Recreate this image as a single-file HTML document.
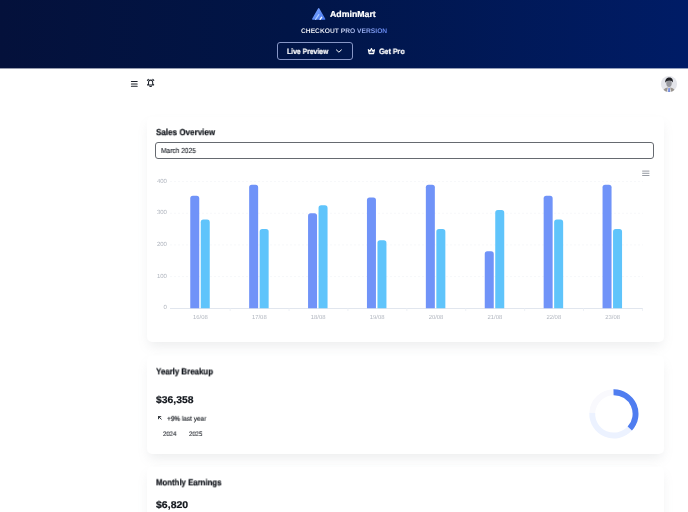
<!DOCTYPE html>
<html lang="en">
<head>
<meta charset="utf-8">
<title>AdminMart Dashboard</title>
<style>
*{box-sizing:border-box;margin:0;padding:0}
html,body{width:688px;height:512px;overflow:hidden;background:#fff;text-rendering:geometricPrecision;font-family:"Liberation Sans",sans-serif;color:#1d222b}
.abs{position:absolute}
#top{position:absolute;left:0;top:0;width:688px;height:68px;background:linear-gradient(90deg,#04113b 0%,#011547 42%,#001c66 100%)}
#live{position:absolute;left:277px;top:42px;width:76px;height:17.5px;border:1px solid #8796c6;border-radius:3px}
.card{position:absolute;left:147px;width:517.2px;background:#fff;border-radius:5px;box-shadow:0 6px 12px -2px rgba(136,138,146,.155)}
.t{position:absolute;will-change:transform;line-height:1;white-space:pre;transform-origin:0 0}
svg{will-change:transform;position:absolute;left:0;top:0;overflow:visible}
svg text{font-family:"Liberation Sans",sans-serif;text-rendering:geometricPrecision}
</style>
</head>
<body>
<div id="top"></div>
<div style="position:absolute;left:0;top:68px;width:688px;height:1px;opacity:.42;background:linear-gradient(90deg,#04113b 0%,#011547 42%,#001c66 100%)"></div>
<svg width="688" height="68" viewBox="0 0 688 68">
  <defs>
    <linearGradient id="lg" x1="0" y1="0" x2="1" y2="1">
      <stop offset="0" stop-color="#7da6ff"/><stop offset="1" stop-color="#4777ee"/>
    </linearGradient>
  </defs>
  <path d="M318.7 8.9 L324.6 19.1 L312.8 19.1 Z" fill="url(#lg)" stroke="url(#lg)" stroke-width="1.5" stroke-linejoin="round"/>
  <path d="M315.6 19.4 L318.8 14.6" stroke="#a9c9ff" stroke-width="1.3" stroke-linecap="round" fill="none"/><path d="M320.1 19.3 L321.6 17.3" stroke="#f2f6ff" stroke-width="1.4" stroke-linecap="round" fill="none"/>
  <!-- chevron -->
  <path d="M336.4 49.9 L338.9 52.2 L341.4 49.9" fill="none" stroke="#fff" stroke-width="1" stroke-linecap="round" stroke-linejoin="round"/>
  <!-- crown -->
  <path d="M368.3 49.7 L369.2 53.6 L373.6 53.6 L374.5 49.7 L372.8 51.2 L371.4 48.6 L370 51.2 Z" fill="rgba(255,255,255,.25)" stroke="#fff" stroke-width="1.1" stroke-linejoin="round"/>
</svg>
<div id="live"></div>

<!-- nav icons -->
<svg width="688" height="120" viewBox="0 0 688 120">
  <g stroke="#1d222b" stroke-width="1.05" stroke-linecap="round" fill="none">
    <path d="M131.4 81.5 H137.2 M131.4 83.9 H137.2 M131.4 86.3 H137.2"/>
    <path d="M148.5 84 C148.5 82.2 148.3 80.1 150.6 80.1 C152.9 80.1 152.7 82.2 152.7 84 L153.7 84.9 H147.5 Z" stroke-linejoin="round"/>
    <path d="M149.7 86.1 Q150.6 86.9 151.5 86.1"/>
    <path d="M147.4 80.4 L148.4 79.3 M153.8 80.4 L152.8 79.3"/>
  </g>
  <clipPath id="av"><circle cx="669" cy="84" r="8.1"/></clipPath>
  <g clip-path="url(#av)">
    <rect x="660" y="75" width="18" height="18" fill="#e4e5ea"/>
    <path d="M663 93 C663 88.6 665.6 87.4 669 87.4 C672.4 87.4 675 88.6 675 93Z" fill="#9a958f"/>
    <path d="M666.6 93 L667.8 87.6 H670.2 L671.4 93Z" fill="#e9eaf0"/>
    <path d="M668.2 93 L668.5 88 H669.6 L669.9 93Z" fill="#4f6fd8"/>
    <ellipse cx="669" cy="83.3" rx="2.7" ry="3.8" fill="#96979d"/>
    <path d="M665.3 82.8 C664.8 78.8 667.4 77.3 669.4 77.4 C671.6 77.5 673.4 79 672.9 82.6 C672.3 81 671 80.3 669.2 80.4 C667.4 80.5 666.2 81 665.3 82.8Z" fill="#1e1f24"/>
  </g>
</svg>

<!-- cards -->
<div class="card" style="top:117px;height:225.2px"></div>
<div class="card" style="top:356px;height:98px"></div>
<div class="card" style="top:467px;height:98px"></div>
<div class="abs" style="left:155.3px;top:142px;width:498.4px;height:17px;border:1px solid #666a70;border-radius:3px"></div>

<svg width="688" height="512" viewBox="0 0 688 512">
  <path d="M170 276.62 H643 M170 244.95 H643 M170 213.28 H643 M170 181.60 H643" stroke="#f7f8fa" stroke-width="1" stroke-dasharray="2 2" fill="none"/>
  <path d="M170 308.5 H643" stroke="#e1e6ee" stroke-width="1"/>
  <path d="M230.15 308.5 V311 M289.05 308.5 V311 M347.95 308.5 V311 M406.85 308.5 V311 M465.75 308.5 V311 M524.65 308.5 V311 M583.55 308.5 V311 M642.45 308.5 V311" stroke="#eef1f6" stroke-width="1" fill="none"/>
  <g fill="#b1b6bf" font-size="6" text-anchor="end"><text x="166.9" y="309.20">0</text><text x="166.9" y="277.52">100</text><text x="166.9" y="245.85">200</text><text x="166.9" y="214.18">300</text><text x="166.9" y="182.50">400</text></g>
  <g fill="#b1b6bf" font-size="5.9" text-anchor="middle"><text x="200.40" y="319.3">16/08</text><text x="259.30" y="319.3">17/08</text><text x="318.20" y="319.3">18/08</text><text x="377.10" y="319.3">19/08</text><text x="436.00" y="319.3">20/08</text><text x="494.90" y="319.3">21/08</text><text x="553.80" y="319.3">22/08</text><text x="612.70" y="319.3">23/08</text></g>
  <g fill="#7093f8">
<path d="M190.25 308.3 V198.45 a2.6 2.6 0 0 1 2.6 -2.6 h3.80 a2.6 2.6 0 0 1 2.6 2.6 V308.3Z"/>
<path d="M249.15 308.3 V187.37 a2.6 2.6 0 0 1 2.6 -2.6 h3.80 a2.6 2.6 0 0 1 2.6 2.6 V308.3Z"/>
<path d="M308.05 308.3 V215.88 a2.6 2.6 0 0 1 2.6 -2.6 h3.80 a2.6 2.6 0 0 1 2.6 2.6 V308.3Z"/>
<path d="M366.95 308.3 V200.04 a2.6 2.6 0 0 1 2.6 -2.6 h3.80 a2.6 2.6 0 0 1 2.6 2.6 V308.3Z"/>
<path d="M425.85 308.3 V187.37 a2.6 2.6 0 0 1 2.6 -2.6 h3.80 a2.6 2.6 0 0 1 2.6 2.6 V308.3Z"/>
<path d="M484.75 308.3 V253.88 a2.6 2.6 0 0 1 2.6 -2.6 h3.80 a2.6 2.6 0 0 1 2.6 2.6 V308.3Z"/>
<path d="M543.65 308.3 V198.45 a2.6 2.6 0 0 1 2.6 -2.6 h3.80 a2.6 2.6 0 0 1 2.6 2.6 V308.3Z"/>
<path d="M602.55 308.3 V187.37 a2.6 2.6 0 0 1 2.6 -2.6 h3.80 a2.6 2.6 0 0 1 2.6 2.6 V308.3Z"/>
  </g>
  <g fill="#5fc4fb">
<path d="M200.75 308.3 V222.21 a2.6 2.6 0 0 1 2.6 -2.6 h3.80 a2.6 2.6 0 0 1 2.6 2.6 V308.3Z"/>
<path d="M259.65 308.3 V231.71 a2.6 2.6 0 0 1 2.6 -2.6 h3.80 a2.6 2.6 0 0 1 2.6 2.6 V308.3Z"/>
<path d="M318.55 308.3 V207.96 a2.6 2.6 0 0 1 2.6 -2.6 h3.80 a2.6 2.6 0 0 1 2.6 2.6 V308.3Z"/>
<path d="M377.45 308.3 V242.80 a2.6 2.6 0 0 1 2.6 -2.6 h3.80 a2.6 2.6 0 0 1 2.6 2.6 V308.3Z"/>
<path d="M436.35 308.3 V231.71 a2.6 2.6 0 0 1 2.6 -2.6 h3.80 a2.6 2.6 0 0 1 2.6 2.6 V308.3Z"/>
<path d="M495.25 308.3 V212.71 a2.6 2.6 0 0 1 2.6 -2.6 h3.80 a2.6 2.6 0 0 1 2.6 2.6 V308.3Z"/>
<path d="M554.15 308.3 V222.21 a2.6 2.6 0 0 1 2.6 -2.6 h3.80 a2.6 2.6 0 0 1 2.6 2.6 V308.3Z"/>
<path d="M613.05 308.3 V231.71 a2.6 2.6 0 0 1 2.6 -2.6 h3.80 a2.6 2.6 0 0 1 2.6 2.6 V308.3Z"/>
  </g>
  <!-- chart menu -->
  <path d="M642.2 171.1 H649.4 M642.2 173.3 H649.4 M642.2 175.5 H649.4" stroke="#979ba3" stroke-width="1" fill="none"/>
  <!-- arrow up-left -->
  <path d="M161.3 419.2 L158.5 416.6 M158.5 418.8 V416.6 H160.8" fill="none" stroke="#171b22" stroke-width=".85" stroke-linecap="round" stroke-linejoin="round"/>
  <!-- donut -->
  <path d="M592.27 412.91 A21.65 21.65 0 0 1 613.90 392.25" fill="none" stroke="#f9f9fd" stroke-width="5.9"/>
  <path d="M629.78 428.61 A21.65 21.65 0 0 1 592.27 412.91" fill="none" stroke="#ecf2ff" stroke-width="5.9"/>
  <path d="M613.52 392.25 A21.65 21.65 0 0 1 629.78 428.61" fill="none" stroke="#4f7df0" stroke-width="5.9"/>
</svg>

<div class="t" style="left:329.97px;top:10.32px;font-size:8.6px;font-weight:700;color:#fff;-webkit-text-stroke-width:0.22px;transform:translateY(0px) scaleX(1.0203)">AdminMart</div>
<div class="t" style="left:300.80px;top:29.13px;font-size:6.7px;font-weight:700;color:transparent;background:linear-gradient(90deg,#fff 0%,#eef1fc 38%,#aabaf0 62%,#6286f2 100%);-webkit-background-clip:text;background-clip:text;padding:3px 0;margin-top:-3px;-webkit-text-stroke-width:0px;transform:translateY(0px) scaleX(1.0000)">CHECKOUT PRO VERSION</div>
<div class="t" style="left:286.69px;top:48.15px;font-size:7.8px;font-weight:700;color:#fff;-webkit-text-stroke-width:0.22px;transform:translateY(0px) scaleX(0.8741)">Live Preview</div>
<div class="t" style="left:378.57px;top:48.15px;font-size:7.8px;font-weight:700;color:#fff;-webkit-text-stroke-width:0.22px;transform:translateY(0px) scaleX(0.9123)">Get Pro</div>
<div class="t" style="left:156.42px;top:128.37px;font-size:8.9px;font-weight:700;color:#12161c;-webkit-text-stroke-width:0.22px;transform:translateY(0.15px) scaleX(0.9080)">Sales Overview</div>
<div class="t" style="left:161.20px;top:147.22px;font-size:7.3px;font-weight:400;color:#1f232a;-webkit-text-stroke-width:0.12px;transform:translateY(0px) scaleX(0.9054)">March 2025</div>
<div class="t" style="left:156.43px;top:366.75px;font-size:8.8px;font-weight:700;color:#12161c;-webkit-text-stroke-width:0.22px;transform:translateY(0.4px) scaleX(0.8965)">Yearly Breakup</div>
<div class="t" style="left:156.18px;top:395.70px;font-size:9.8px;font-weight:700;color:#12161c;-webkit-text-stroke-width:0.22px;transform:translateY(-0.2px) scaleX(1.0587)">$36,358</div>
<div class="t" style="left:167.21px;top:417.23px;font-size:6.7px;font-weight:400;color:#12161c;-webkit-text-stroke-width:0.12px;transform:translateY(-0.2px) scaleX(0.9631)"><span style="-webkit-text-stroke-width:.18px">+9%</span> last year</div>
<div class="t" style="left:163.04px;top:431.58px;font-size:6.4px;font-weight:400;color:#1f232a;-webkit-text-stroke-width:0.12px;transform:translateY(0px) scaleX(0.9424)">2024</div>
<div class="t" style="left:188.64px;top:431.58px;font-size:6.4px;font-weight:400;color:#1f232a;-webkit-text-stroke-width:0.12px;transform:translateY(0px) scaleX(0.9354)">2025</div>
<div class="t" style="left:156.13px;top:477.87px;font-size:8.8px;font-weight:700;color:#12161c;-webkit-text-stroke-width:0.22px;transform:translateY(0.35px) scaleX(0.8860)">Monthly Earnings</div>
<div class="t" style="left:156.17px;top:501.00px;font-size:9.8px;font-weight:700;color:#12161c;-webkit-text-stroke-width:0.22px;transform:translateY(-0.4px) scaleX(1.0745)">$6,820</div>
</body>
</html>
